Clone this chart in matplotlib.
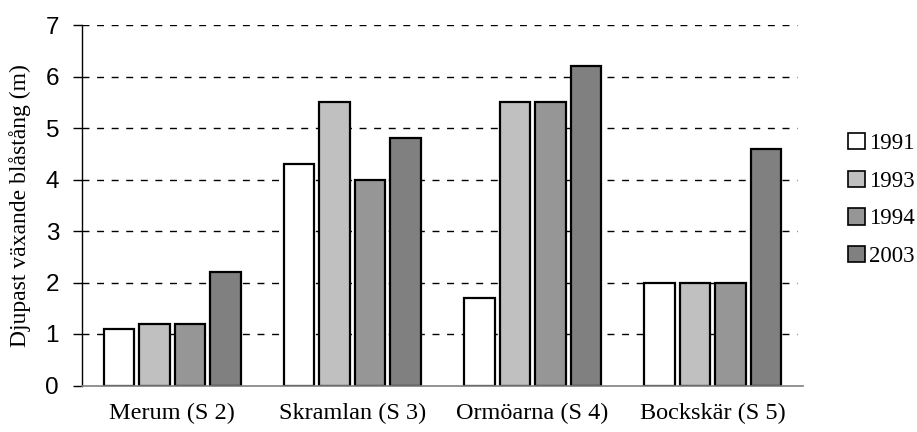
import matplotlib
matplotlib.use("Agg")
import matplotlib.pyplot as plt
import numpy as np

categories = ["Merum (S 2)", "Skramlan (S 3)", "Ormöarna (S 4)", "Bockskär (S 5)"]
years = ["1991", "1993", "1994", "2003"]
v1991 = [1.1, 4.3, 1.7, 2.0]
v1993 = [1.2, 5.5, 5.5, 2.0]
v1994 = [1.2, 4.0, 5.5, 2.0]
v2003 = [2.2, 4.8, 6.2, 4.6]
series = [v1991, v1993, v1994, v2003]
colors = ["#FFFFFF", "#C0C0C0", "#969696", "#808080"]
yticks = [0, 1, 2, 3, 4, 5, 6, 7]

fig = plt.figure(figsize=(9.17, 4.32), dpi=100)
ax = fig.add_axes([82/917, 1-385.5/432, 721/917, (385.5-25)/432])

x = np.arange(len(categories))
pitch = 0.197
width = 0.168
handles = []
for j, (vals, c, yr) in enumerate(zip(series, colors, years)):
    b = ax.bar(x + (j-1.5)*pitch, vals, width=width, color=c, edgecolor="black",
               linewidth=1.6, label=yr, zorder=3)
    handles.append(b)

ax.set_xlim(-0.5, len(categories)-0.5)
ax.set_ylim(0, 7)
ax.set_yticks(yticks)
ax.set_yticklabels([str(t) for t in yticks], fontsize=17.5, family="Liberation Sans")
ax.set_xticks(x)
ax.set_xticklabels(categories, fontsize=17.5, family="Liberation Serif")
ax.tick_params(axis="x", length=0, pad=12.5)
ax.tick_params(axis="y", length=6.5, width=1, pad=10, color="black")

for t in yticks[1:]:
    ax.axhline(t, xmax=0.992, color="black", linewidth=1.0,
               linestyle=(0, (5, 5.5)), zorder=1)

for s in ["top", "right"]:
    ax.spines[s].set_visible(False)
ax.spines["left"].set_color("black")
ax.spines["left"].set_linewidth(1)
ax.spines["bottom"].set_color("#808080")
ax.spines["bottom"].set_linewidth(1.2)
ax.spines["bottom"].set_zorder(4)

ax.set_ylabel("Djupast växande blåstång (m)", fontsize=17, family="Liberation Serif")
ax.yaxis.set_label_coords(-0.071, 0.5)

leg = fig.legend(handles=handles, labels=years, loc="center left",
                 bbox_to_anchor=(848/917, 1-200/432), frameon=False,
                 prop={"family": "Liberation Serif", "size": 16.5},
                 handlelength=0.72, handleheight=0.72, handletextpad=0.2,
                 labelspacing=0.72, borderpad=0, borderaxespad=0)
for p in leg.get_patches():
    p.set_linewidth(1.2)

fig.savefig("out.png", dpi=100)
